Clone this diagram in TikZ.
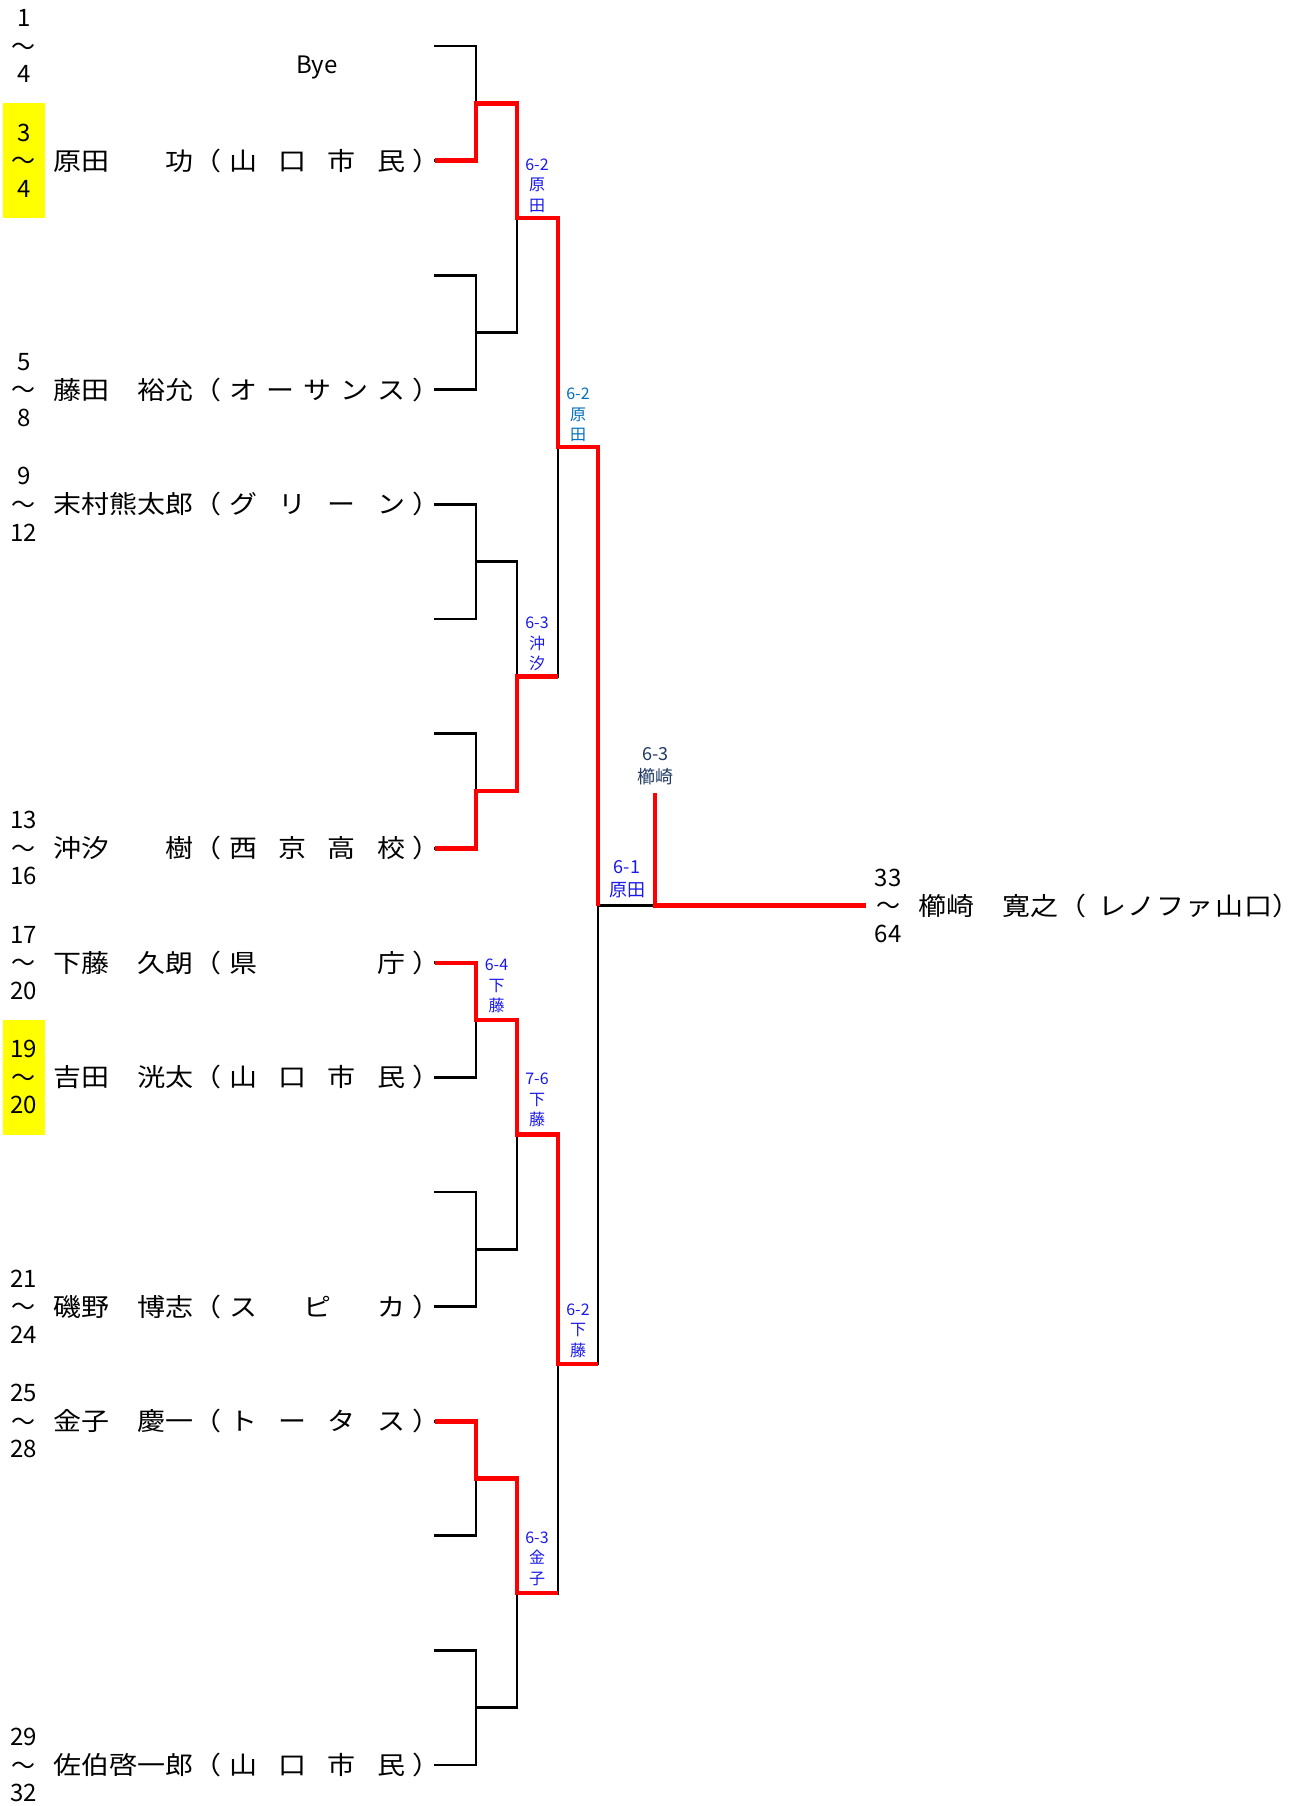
\documentclass[tikz,border=0pt]{standalone}
\usepackage{fontspec}
\newfontfamily\jp{Noto Sans CJK JP}
\newfontfamily\jpw{Noto Sans CJK JP}[FakeStretch=1.12]
\definecolor{wred}{RGB}{255,0,0}
\definecolor{sblue}{RGB}{25,25,235}
\definecolor{lblue}{RGB}{0,112,192}
\definecolor{navy}{RGB}{31,56,100}
\definecolor{hl}{RGB}{255,255,0}
\newcommand\cc[1]{\makebox[28pt]{#1}}
\newcommand\aff[1]{\cc{（}\hspace{8pt}\makebox[176pt]{#1}\hspace{7pt}\cc{）}}
\newcommand\numcol[5]{%
  \node[numf] (#1t) at (#2,#3-28) {#4};
  \node[numf] (#1m) at (#2,#3+3) {～};
  \node[numf] (#1b) at (#2,#3+28) {#5};}
\begin{document}
\begin{tikzpicture}[x=1pt,y=-1pt,
  bk/.style={line width=2.9pt,black,line cap=rect},
  rd/.style={line width=4.6pt,wred,line join=miter},
  numf/.style={font=\jp\fontsize{24}{28}\selectfont,inner sep=0},
  nm/.style={font=\jpw\fontsize{25}{30}\selectfont,inner sep=0,anchor=base west},
  sc/.style={font=\jp\fontsize{16}{20.5}\selectfont,align=center,inner sep=0},
  scb/.style={font=\jp\fontsize{18}{23}\selectfont,align=center,inner sep=0}]
\useasboundingbox (0,0) rectangle (1299,1806);
% highlight boxes
\fill[hl] (3,103.3) rectangle (45,217.9);
\fill[hl] (3,1020.1) rectangle (45,1134.7);
% coordinates
\foreach \i in {0,...,15}{
  \pgfmathsetmacro\yy{46+114.6*\i}
  \coordinate (r\i) at (435,\yy);
  \coordinate (a\i) at (476,\yy);}
\foreach \k in {0,...,7}{
  \pgfmathsetmacro\yy{46+114.6*(2*\k+0.5)}
  \coordinate (p\k) at (476,\yy);
  \coordinate (pe\k) at (517,\yy);}
\foreach \m in {0,...,3}{
  \pgfmathsetmacro\yy{46+114.6*(4*\m+1.5)}
  \coordinate (q\m) at (517,\yy);
  \coordinate (qe\m) at (558,\yy);}
\foreach \n in {0,1}{
  \pgfmathsetmacro\yy{46+114.6*(8*\n+3.5)}
  \coordinate (s\n) at (558,\yy);
  \coordinate (se\n) at (598,\yy);}
\coordinate (f) at (598,905.5);
\coordinate (fe) at (655,905.5);
\coordinate (fend) at (866,905.5);
\coordinate (ftop) at (655,793);
% black bracket
\foreach \i in {0,...,15}{\draw[bk] (r\i) -- (a\i);}
\foreach \k in {0,...,7}{
  \pgfmathtruncatemacro\ka{2*\k}\pgfmathtruncatemacro\kb{2*\k+1}
  \draw[bk] (a\ka) -- (a\kb);
  \draw[bk] (p\k) -- (pe\k);}
\foreach \m in {0,...,3}{
  \pgfmathtruncatemacro\ka{2*\m}\pgfmathtruncatemacro\kb{2*\m+1}
  \draw[bk] (pe\ka) -- (pe\kb);
  \draw[bk] (q\m) -- (qe\m);}
\foreach \n in {0,1}{
  \pgfmathtruncatemacro\ka{2*\n}\pgfmathtruncatemacro\kb{2*\n+1}
  \draw[bk] (qe\ka) -- (qe\kb);
  \draw[bk] (s\n) -- (se\n);}
\draw[bk] (se0) -- (se1);
\draw[bk] (f) -- (fe);
% red winner paths
\draw[rd] (r1) -- (a1) -- (p0) -- (pe0) -- (q0) -- (qe0) -- (s0) -- (se0) -- (f);
\draw[rd] (r7) -- (a7) -- (p3) -- (pe3) -- (q1) -- (qe1);
\draw[rd] (r8) -- (a8) -- (p4) -- (pe4) -- (q2) -- (qe2) -- (s1) -- (se1);
\draw[rd] (r12) -- (a12) -- (p6) -- (pe6) -- (q3) -- (qe3);
\draw[rd] (ftop) -- (fe) -- (fend);
% number columns
\numcol{n0}{24}{46}{1}{4}
\numcol{n1}{24}{160.6}{3}{4}
\numcol{n3}{24}{389.8}{5}{8}
\numcol{n4}{24}{504.4}{9}{12}
\numcol{n7}{24}{848.2}{13}{16}
\numcol{n8}{24}{962.8}{17}{20}
\numcol{n9}{24}{1077.4}{19}{20}
\numcol{n11}{24}{1306.6}{21}{24}
\numcol{n12}{24}{1421.2}{25}{28}
\numcol{n15}{24}{1765}{29}{32}
\numcol{nf}{888}{905.5}{33}{64}
% names
\node[font=\jp\fontsize{24}{28}\selectfont,inner sep=0] (bye) at (317,68) {Bye};
\node[nm] (e1) at (53,170.1) {\cc{原}\cc{田}\cc{}\cc{}\cc{功}\aff{山\hfill 口\hfill 市\hfill 民}};
\node[nm] (e3) at (53,399.3) {\cc{藤}\cc{田}\cc{}\cc{裕}\cc{允}\aff{オ\hfill ー\hfill サ\hfill ン\hfill ス}};
\node[nm] (e4) at (53,513.9) {\cc{末}\cc{村}\cc{熊}\cc{太}\cc{郎}\aff{グ\hfill リ\hfill ー\hfill ン}};
\node[nm] (e7) at (53,857.7) {\cc{沖}\cc{汐}\cc{}\cc{}\cc{樹}\aff{西\hfill 京\hfill 高\hfill 校}};
\node[nm] (e8) at (53,972.3) {\cc{下}\cc{藤}\cc{}\cc{久}\cc{朗}\aff{県\hfill 庁}};
\node[nm] (e9) at (53,1086.9) {\cc{吉}\cc{田}\cc{}\cc{洸}\cc{太}\aff{山\hfill 口\hfill 市\hfill 民}};
\node[nm] (e11) at (53,1316.1) {\cc{磯}\cc{野}\cc{}\cc{博}\cc{志}\aff{ス\hfill ピ\hfill カ}};
\node[nm] (e12) at (53,1430.7) {\cc{金}\cc{子}\cc{}\cc{慶}\cc{一}\aff{ト\hfill ー\hfill タ\hfill ス}};
\node[nm] (e15) at (53,1774.5) {\cc{佐}\cc{伯}\cc{啓}\cc{一}\cc{郎}\aff{山\hfill 口\hfill 市\hfill 民}};
\node[nm] (ef) at (918,915) {\cc{櫛}\cc{崎}\cc{}\cc{寛}\cc{之}\cc{（}\hspace{12pt}\makebox[174pt]{レ\hfill ノ\hfill フ\hfill ァ\hfill 山\hfill 口}\cc{）}};
% scores
\node[sc,text=sblue] (sc1) at (537,185.5) {6-2\\原\\田};
\node[sc,text=lblue] (sc2) at (578,415) {6-2\\原\\田};
\node[sc,text=sblue] (sc3) at (537,644) {6-3\\沖\\汐};
\node[scb,text=sblue] (sc4) at (627,879) {6-1\\原田};
\node[scb,text=navy] (sc5) at (655.5,766) {6-3\\櫛崎};
\node[sc,text=sblue] (sc6) at (496.5,986) {6-4\\下\\藤};
\node[sc,text=sblue] (sc7) at (537,1100) {7-6\\下\\藤};
\node[sc,text=sblue] (sc8) at (578,1330.5) {6-2\\下\\藤};
\node[sc,text=sblue] (sc9) at (537,1558.6) {6-3\\金\\子};
\end{tikzpicture}
\end{document}
